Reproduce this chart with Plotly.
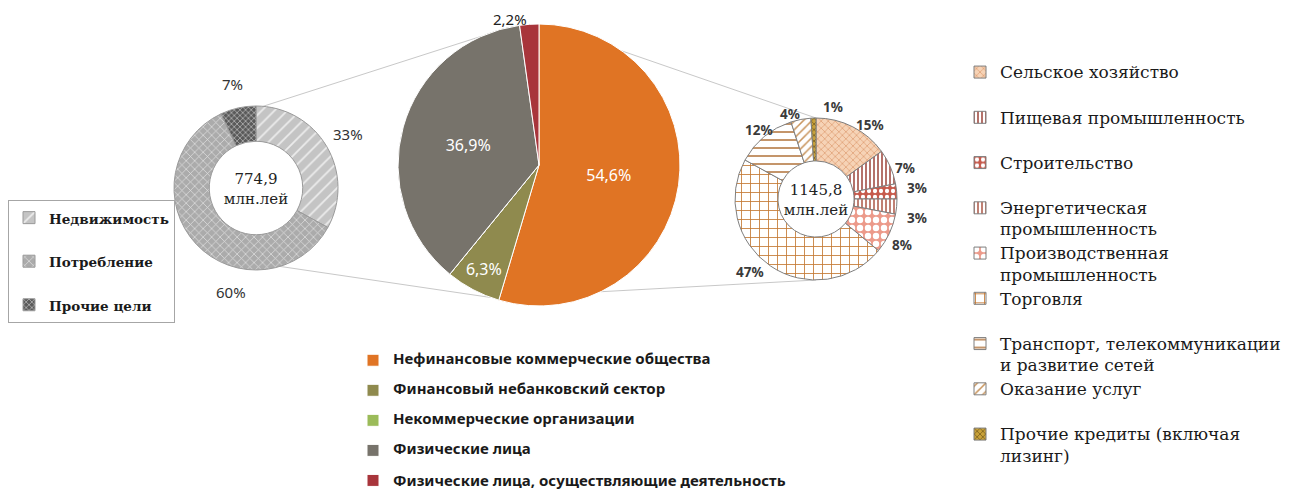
import math
import plotly.graph_objects as go

W, H = 1306, 489          # browser window
OFF = 8                   # default page margin around the plot div
FW, FH = W - OFF, H - OFF

# ---------------- data ----------------
center_labels = [
    "Нефинансовые коммерческие общества",
    "Финансовый небанковский сектор",
    "Некоммерческие организации",
    "Физические лица",
    "Физические лица, осуществляющие деятельность",
]
center_values = [54.6, 6.3, 0.0, 36.9, 2.2]
center_colors = ["#E07424", "#8F8A4E", "#9BBB59", "#77736B", "#A8353B"]

left_labels = ["Недвижимость", "Потребление", "Прочие цели"]
left_values = [33, 60, 7]
left_total = "774,9"

right_labels = [
    "Сельское хозяйство",
    "Пищевая промышленность",
    "Строительство",
    "Энергетическая<br>промышленность",
    "Производственная<br>промышленность",
    "Торговля",
    "Транспорт, телекоммуникации<br>и развитие сетей",
    "Оказание услуг",
    "Прочие кредиты (включая<br>лизинг)",
]
right_values = [15, 7, 3, 3, 8, 47, 12, 4, 1]
right_total = "1145,8"
unit = "млн.лей"

# ---------------- styles ----------------
left_bg = ["#C4C4C4", "#ABABAB", "#5A5A5A"]
left_fg = ["#ECECEC", "#E2E2E2", "#C8C8C8"]
left_shape = ["/", "x", "x"]
left_psize = [9, 6, 4]
left_solid = [0.2, 0.22, 0.3]
left_label_nudge = [0, -33, 0]      # angular nudge (deg) of the outside labels

right_bg = ["#F6D3B6", "#FFFFFF", "#C65A4C", "#FFFFFF", "#EC9A8A",
            "#FFFFFF", "#FFFFFF", "#FFFFFF", "#C9A23A"]
right_fg = ["#E2A47C", "#A24D44", "#FFFFFF", "#B06050", "#FFFFFF",
            "#C47A34", "#B57A45", "#C8945C", "#6B5318"]
right_shape = ["x", "|", ".", "|", ".", "+", "-", "/", "x"]
right_psize = [5, 4, 6, 4, 8, 9, 8, 6, 4]
right_solid = [0.3, 0.4, 0.4, 0.4, 0.5, 0.18, 0.2, 0.25, 0.3]
right_label_nudge = [9, 4, -1, 5, 3, 8, 0, -6, 12]
right_label_k = [1.13, 1.17, 1.25, 1.27, 1.21, 1.21, 1.11, 1.10, 1.16]

# geometry (screen pixel centre, radius) of the three pies
C_GEO = (539, 165, 141)
L_GEO = (256, 188, 82)
R_GEO = (816, 199, 81)


def px(x):
    return (x - OFF) / FW


def py(y):
    return 1 - (y - OFF) / FH


def dom(geo):
    cx, cy, r = geo
    return dict(x=[px(cx - r), px(cx + r)], y=[py(cy + r), py(cy - r)])


def edge(geo, ang, k=1.0):
    cx, cy, r = geo
    a = math.radians(ang)
    return px(cx + k * r * math.sin(a)), py(cy - k * r * math.cos(a))


def mids(values):
    tot = sum(values)
    out, acc = [], 0
    for v in values:
        out.append((acc + v / 2) / tot * 360)
        acc += v
    return out


def lg(label, size, pad=True):
    s = f'<span style="font-size:{size}px">{label}</span>'
    return s + ("<br> " if pad else "")


fig = go.Figure()
annotations = []

# centre pie: big slices labelled inside, the small last slice labelled just outside
c_tmpl = ["%{percent:.1%}" if v > 0 else "" for v in center_values]
c_pos = ["inside"] * (len(center_values) - 1) + ["none"]
fig.add_trace(go.Pie(
    labels=[lg(l, 15, i < len(center_labels) - 1) for i, l in enumerate(center_labels)],
    values=center_values,
    sort=False, direction="clockwise", rotation=0,
    domain=dom(C_GEO),
    marker=dict(colors=center_colors, line=dict(color="#FFFFFF", width=1)),
    texttemplate=c_tmpl, textposition=c_pos,
    insidetextorientation="horizontal",
    insidetextfont=dict(family="Noto Sans", size=16, color="#FFFFFF"),
    legend="legend3", showlegend=True, hoverinfo="label+percent",
))
c_tot = sum(center_values)
last_mid = mids(center_values)[-1]
lx, ly = edge(C_GEO, last_mid, 1.035)
annotations.append(dict(
    x=lx, y=ly, xref="paper", yref="paper",
    text=f"{center_values[-1] / c_tot * 100:.1f}%".replace(".", ","),
    showarrow=False, xanchor="right", yanchor="middle",
    font=dict(family="Noto Sans", size=15, color="#222222")))

# left donut
fig.add_trace(go.Pie(
    labels=[lg(l, 13.5, i < len(left_labels) - 1) for i, l in enumerate(left_labels)],
    values=left_values,
    sort=False, direction="clockwise", rotation=0, hole=0.57,
    domain=dom(L_GEO),
    marker=dict(colors=left_bg, line=dict(color="#9A9A9A", width=1),
                pattern=dict(shape=left_shape, bgcolor=left_bg, fgcolor=left_fg,
                             size=left_psize, solidity=left_solid, fillmode="replace")),
    textinfo="none",
    title=dict(text=f"{left_total}<br>{unit}", position="middle center",
               font=dict(family="DejaVu Serif", size=15, color="#222222")),
    legend="legend", hoverinfo="label+percent",
))

# outside labels of the left donut (angles derived from the values)
l_tot = sum(left_values)
for v, mid, nudge in zip(left_values, mids(left_values), left_label_nudge):
    x, y = edge(L_GEO, mid + nudge, 1.3)
    annotations.append(dict(x=x, y=y, xref="paper", yref="paper", text=f"{v / l_tot:.0%}",
                            showarrow=False, xanchor="center", yanchor="middle",
                            font=dict(family="Noto Sans", size=15, color="#333333")))

# right donut
fig.add_trace(go.Pie(
    labels=[lg(l, 17, False) if "<br>" in l else lg(l, 17, True) for l in right_labels],
    values=right_values,
    sort=False, direction="clockwise", rotation=0, hole=0.47,
    domain=dom(R_GEO),
    marker=dict(colors=right_bg, line=dict(color="#7F7F7F", width=1),
                pattern=dict(shape=right_shape, bgcolor=right_bg, fgcolor=right_fg,
                             size=right_psize, solidity=right_solid, fillmode="replace")),
    textinfo="none",
    title=dict(text=f"{right_total}<br>{unit}", position="middle center",
               font=dict(family="DejaVu Serif", size=15, color="#222222")),
    legend="legend2", hoverinfo="label+percent",
))

# outside labels of the right donut
r_tot = sum(right_values)
for v, mid, nudge, k in zip(right_values, mids(right_values), right_label_nudge, right_label_k):
    x, y = edge(R_GEO, mid + nudge, k)
    annotations.append(dict(x=x, y=y, xref="paper", yref="paper", text=f"{v / r_tot:.0%}",
                            showarrow=False, xanchor="center", yanchor="middle",
                            font=dict(family="Noto Sans", size=13.5, color="#3A3A3A",
                                      weight="bold")))

# connector lines between pies
conn = [
    (edge(L_GEO, 5), edge(C_GEO, -24)),
    (edge(L_GEO, 163), edge(C_GEO, 200)),
    (edge(C_GEO, 36), edge(R_GEO, 0)),
    (edge(C_GEO, 154), edge(R_GEO, 180)),
]
shapes = [dict(type="line", xref="paper", yref="paper", x0=a[0], y0=a[1], x1=b[0], y1=b[1],
               line=dict(color="#C8C8C8", width=1), layer="below") for a, b in conn]

fig.update_layout(
    width=FW, height=FH, autosize=False,
    margin=dict(l=0, r=0, t=0, b=0, autoexpand=False),
    paper_bgcolor="#FFFFFF", plot_bgcolor="#FFFFFF",
    separators=", ",
    shapes=shapes,
    annotations=annotations,
    legend=dict(x=0, y=1 - 192 / FH, xanchor="left", yanchor="top",
                bordercolor="#A6A6A6", borderwidth=1, bgcolor="#FFFFFF",
                valign="top",
                font=dict(family="DejaVu Serif", size=15.6, color="#1A1A1A", weight="bold")),
    legend2=dict(x=952 / FW, y=1 - 47 / FH, xanchor="left", yanchor="top",
                 bgcolor="rgba(0,0,0,0)", valign="top",
                 font=dict(family="DejaVu Serif", size=16.25, color="#1A1A1A")),
    legend3=dict(x=345 / FW, y=1 - 339 / FH, xanchor="left", yanchor="top",
                 bgcolor="rgba(0,0,0,0)", valign="top",
                 font=dict(family="Noto Sans", size=10.4, color="#1A1A1A", weight="bold")),
)

fig.write_html("out.html")
